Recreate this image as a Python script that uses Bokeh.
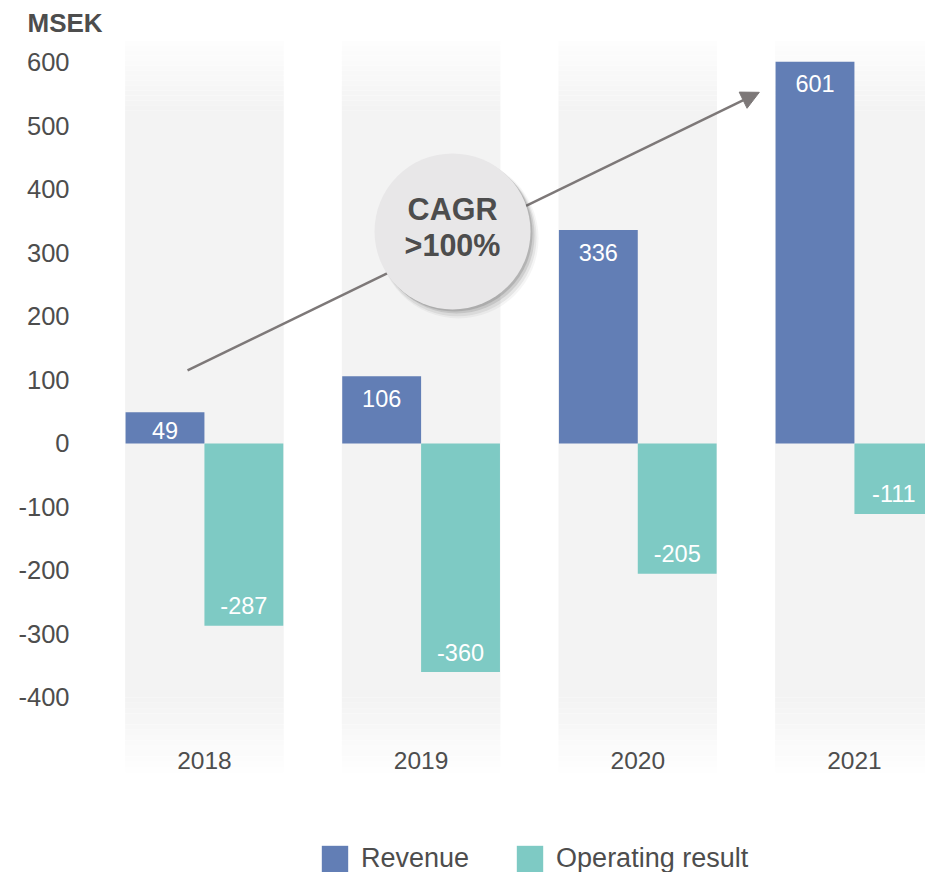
import numpy as np
from bokeh.plotting import figure
from bokeh.models import (ColumnDataSource, Legend, LegendItem, Arrow, NormalHead,
                          FixedTicker, Range1d)
from bokeh.core.properties import value
from bokeh.embed import file_html
from bokeh.resources import INLINE

# ---------------- data ----------------
years = ["2018", "2019", "2020", "2021"]
revenue = [49, 106, 336, 601]
operating_result = [-287, -360, -205, -111]
y_ticks = [-400, -300, -200, -100, 0, 100, 200, 300, 400, 500, 600]
unit_label = "MSEK"
cagr_lines = ["CAGR", ">100%"]
series_names = ["Revenue", "Operating result"]

# ---------------- style ----------------
FONT = "Liberation Sans"
TXT = "#4d4d4d"
C_REV = "#627eb5"
C_OP = "#7ecac4"
X0, X1 = -0.572, 3.328
Y0, Y1 = -675.6, 634.6
COL_BOT = -518.0
PX_X = 216.7          # px per category unit
PX_Y = 0.635          # px per data unit
BW = 0.364            # bar width (units)
OFF = BW / 2

p = figure(width=925, height=872, x_range=Range1d(X0, X1), y_range=Range1d(Y0, Y1),
           output_backend="svg", toolbar_location=None,
           min_border_left=80, min_border_right=0, min_border_top=40, min_border_bottom=0)
p.outline_line_color = None
p.xgrid.grid_line_color = None
p.ygrid.grid_line_color = None
p.background_fill_color = "white"

xs = np.arange(len(years))

# background columns with faded top and bottom
def col_strips(y_a, y_b, g_a, g_b, n):
    edges = np.linspace(y_a, y_b, n + 1)
    greys = np.linspace(g_a, g_b, n)
    return edges, greys

bot_fade_top = -400.0
top_fade_bot = Y1 - 110.0
strip_top, strip_bot, strip_col, strip_x = [], [], [], []
segs = [(Y1, top_fade_bot, 253, 243, 14), (bot_fade_top, COL_BOT, 243, 254, 14)]
for cx in xs:
    strip_x.append(cx); strip_top.append(top_fade_bot); strip_bot.append(bot_fade_top)
    strip_col.append("#f3f3f3")
    for (ya, yb, ga, gb, n) in segs:
        edges, greys = col_strips(ya, yb, ga, gb, n)
        for i in range(n):
            g = int(round(greys[i]))
            strip_x.append(cx)
            strip_top.append(max(edges[i], edges[i + 1]))
            strip_bot.append(min(edges[i], edges[i + 1]))
            strip_col.append("#%02x%02x%02x" % (g, g, g))
p.vbar(x=strip_x, top=strip_top, bottom=strip_bot, width=2 * BW + 0.004,
       fill_color=strip_col, line_color=None)

# bars
src = ColumnDataSource(dict(x_rev=xs - OFF, x_op=xs + OFF, rev=revenue, op=operating_result))
r_rev = p.vbar(x="x_rev", top="rev", bottom=0, width=BW, source=src,
               fill_color=C_REV, line_color=None)
r_op = p.vbar(x="x_op", top="op", bottom=0, width=BW, source=src,
              fill_color=C_OP, line_color=None)

# value labels (inside bar ends)
def label_offset(v):
    if v > 0:
        return min(22.0, v * PX_Y / 2 + 3)
    return -min(20.0, -v * PX_Y / 2 + 3)

vals = revenue + operating_result
lab = ColumnDataSource(dict(
    x=list(xs - OFF) + list(xs + OFF),
    y=vals,
    t=[str(v) for v in vals],
    off=[label_offset(v) for v in vals],
))
p.text(x="x", y="y", text="t", y_offset="off", source=lab, text_color="white",
       text_font=value(FONT), text_font_size="23.5px", text_align="center",
       text_baseline="middle")

# arrow
arrow = Arrow(x_start=-0.078, y_start=115, x_end=2.561, y_end=553,
              line_color="#7d7878", line_width=2.5,
              end=NormalHead(size=18, fill_color="#7d7878", line_color="#7d7878"))
p.add_layout(arrow)

# CAGR circle with soft shadow
cx_c, cy_c = 1.145, 334.0
for (dx, dy, s, a) in [(6, 7, 160, 0.06), (5, 6, 158, 0.10), (4, 4, 156, 0.16), (2, 2, 156, 0.22)]:
    rr = p.scatter(x=[cx_c + dx / PX_X], y=[cy_c - dy / PX_Y], size=s, marker="circle",
                   fill_color="#555555", fill_alpha=a, line_color=None)
    rr.level = "overlay"
rc = p.scatter(x=[cx_c], y=[cy_c], size=156, marker="circle",
               fill_color="#e8e7e8", line_color=None)
rc.level = "overlay"
rt = p.text(x=[cx_c, cx_c], y=[369.5, 312.0], text=cagr_lines, text_color=TXT,
            text_font=value(FONT), text_font_size="30.5px", text_font_style="bold",
            text_align="center", text_baseline="middle")
rt.level = "overlay"

# axes
p.yaxis.ticker = FixedTicker(ticks=y_ticks)
p.yaxis.major_label_overrides = {t: str(t) for t in y_ticks}
p.yaxis.axis_line_color = None
p.yaxis.major_tick_line_color = None
p.yaxis.major_tick_out = 0
p.yaxis.major_tick_in = 0
p.yaxis.minor_tick_line_color = None
p.yaxis.major_label_standoff = 11
p.yaxis.major_label_text_font = FONT
p.yaxis.major_label_text_font_size = "25.5px"
p.yaxis.major_label_text_color = TXT

p.xaxis.ticker = FixedTicker(ticks=list(xs))
p.xaxis.major_label_overrides = {int(i): y for i, y in zip(xs, years)}
p.xaxis.axis_line_color = None
p.xaxis.major_tick_line_color = None
p.xaxis.major_tick_out = 0
p.xaxis.major_tick_in = 0
p.xaxis.minor_tick_line_color = None
p.xaxis.major_label_standoff = -121
p.xaxis.major_label_text_font = FONT
p.xaxis.major_label_text_font_size = "24.5px"
p.xaxis.major_label_text_color = TXT

# title (unit)
p.title.text = unit_label
p.title.text_font = FONT
p.title.text_font_size = "26px"
p.title.text_font_style = "bold"
p.title.text_color = TXT
p.title.align = "left"
p.title.offset = -53
p.title.standoff = 6

# legend (inside the frame, at its bottom)
legend = Legend(items=[LegendItem(label=series_names[0], renderers=[r_rev]),
                       LegendItem(label=series_names[1], renderers=[r_op])],
                orientation="horizontal", location=(238, -3),
                glyph_width=33, glyph_height=33, label_standoff=10, spacing=44,
                padding=0, margin=0, border_line_color=None, background_fill_alpha=0,
                label_text_font=FONT, label_text_font_size="27px", label_text_color=TXT)
p.add_layout(legend)

open("out.html", "w").write(file_html(p, INLINE))
